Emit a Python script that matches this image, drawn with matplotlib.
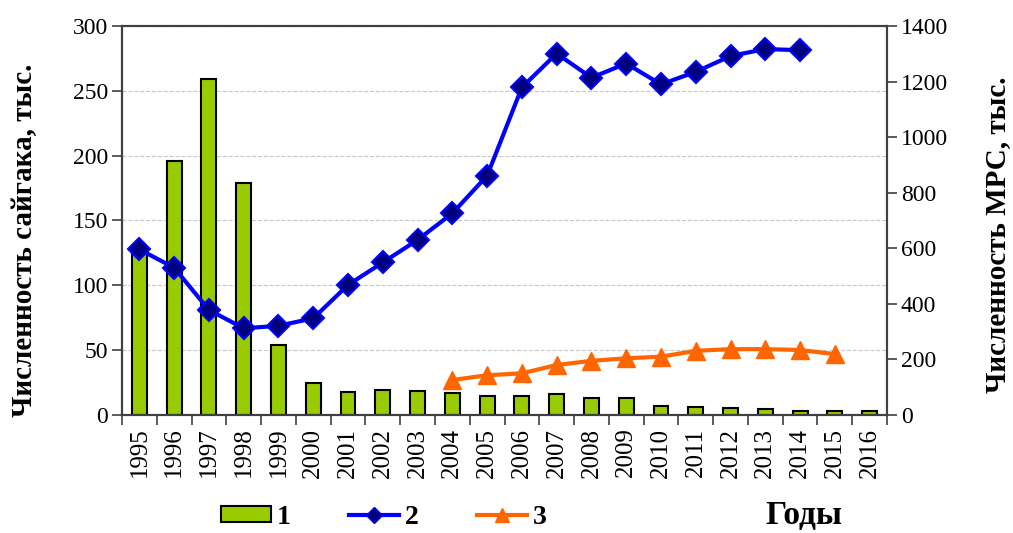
import numpy as np
import matplotlib as mpl
import matplotlib.pyplot as plt
from matplotlib.lines import Line2D
from matplotlib.patches import Patch

mpl.rcParams['font.family'] = ['Liberation Serif', 'DejaVu Serif']

years = [str(y) for y in range(1995, 2017)]

# 1 - saiga population, thousand (left axis)
saiga = [128, 196, 259, 179, 54, 24.5, 17.5, 19.3, 18.3, 17.3, 14.8,
         14.8, 16.3, 12.8, 12.8, 7.3, 6.4, 5.4, 4.6, 3.4, 3.4, 3.4]

# 2 - small cattle (MRS), thousand (right axis), 1995-2014
mrs = [596, 530, 378, 312, 321, 348, 468, 549, 630, 726, 861,
       1179, 1301, 1214, 1265, 1190, 1235, 1292, 1317, 1313]

# 3 - third series (right axis), 2004-2015
s3_years = [str(y) for y in range(2004, 2016)]
s3 = [126, 143, 150, 180, 195, 204, 210, 231, 237, 237, 234, 219]

fig = plt.figure(figsize=(10.13, 5.33), dpi=100)
ax = fig.add_axes([122 / 1013, 1 - 415 / 533, (887 - 122) / 1013, (415 - 26) / 533])
ax2 = ax.twinx()

x = np.arange(len(years))
ax.bar(x, saiga, width=0.43, color='#99CC00', edgecolor='black', linewidth=1.5, zorder=2)

x_mrs = x[:len(mrs)]
x_s3 = np.array([years.index(y) for y in s3_years])
ax2.plot(x_mrs, mrs, color='#0000FF', lw=3, marker='D', ms=11,
         mfc='#000080', mec='#0000FF', mew=1.5, zorder=3)
ax2.plot(x_s3, s3, color='#FF6600', lw=3, marker='^', ms=13,
         mfc='#FF6600', mec='#FF6600', zorder=3)

ax.set_xlim(-0.5, len(years) - 0.5)
ax.set_ylim(0, 300)
ax2.set_ylim(0, 1400)
ax.set_yticks(np.arange(0, 301, 50))
ax2.set_yticks(np.arange(0, 1401, 200))

ax.set_xticks(x)
ax.set_xticklabels(years, rotation=90, fontsize=18)
ax.set_xticks(np.arange(-0.5, len(years)), minor=True)
ax.tick_params(axis='x', which='major', length=0, pad=9)
ax.tick_params(axis='x', which='minor', length=7, width=1.2, color='#404040', direction='out')
ax.tick_params(axis='y', length=7, width=1.2, color='#404040', labelsize=17, pad=3)
ax2.tick_params(axis='y', length=7, width=1.2, color='#404040', labelsize=17, pad=3)

ax.yaxis.grid(True, color='#c8c8c8', ls='--', lw=0.8)
ax.set_axisbelow(True)

for a in (ax, ax2):
    for s in a.spines.values():
        s.set_color('#404040')
        s.set_linewidth(1.5)
ax.spines['top'].set_color('#909090')

ax.set_ylabel('Численность сайгака, тыс.', fontsize=21, fontweight='bold', va='center')
ax.yaxis.set_label_coords(-0.128, 0.45)
ax2.set_ylabel('Численность МРС, тыс.', fontsize=21, fontweight='bold', va='center')
ax2.yaxis.set_label_coords(1.145, 0.463)

handles = [
    Patch(facecolor='#99CC00', edgecolor='black', linewidth=1.5),
    Line2D([], [], color='#0000FF', lw=3, marker='D', ms=8, mfc='#000080', mec='#0000FF'),
    Line2D([], [], color='#FF6600', lw=3, marker='^', ms=10, mfc='#FF6600', mec='#FF6600'),
]
fig.legend(handles, ['1', '2', '3'], loc='center', bbox_to_anchor=(0.379, 0.03), ncol=3,
           frameon=False, prop={'size': 20, 'weight': 'bold'}, borderpad=0,
           handlelength=1.8, handleheight=0.5, handletextpad=0.2, columnspacing=2.1)
fig.text(0.794, 0.033, 'Годы', fontsize=24, fontweight='bold', ha='center', va='center')

fig.savefig('out.png', dpi=100)
